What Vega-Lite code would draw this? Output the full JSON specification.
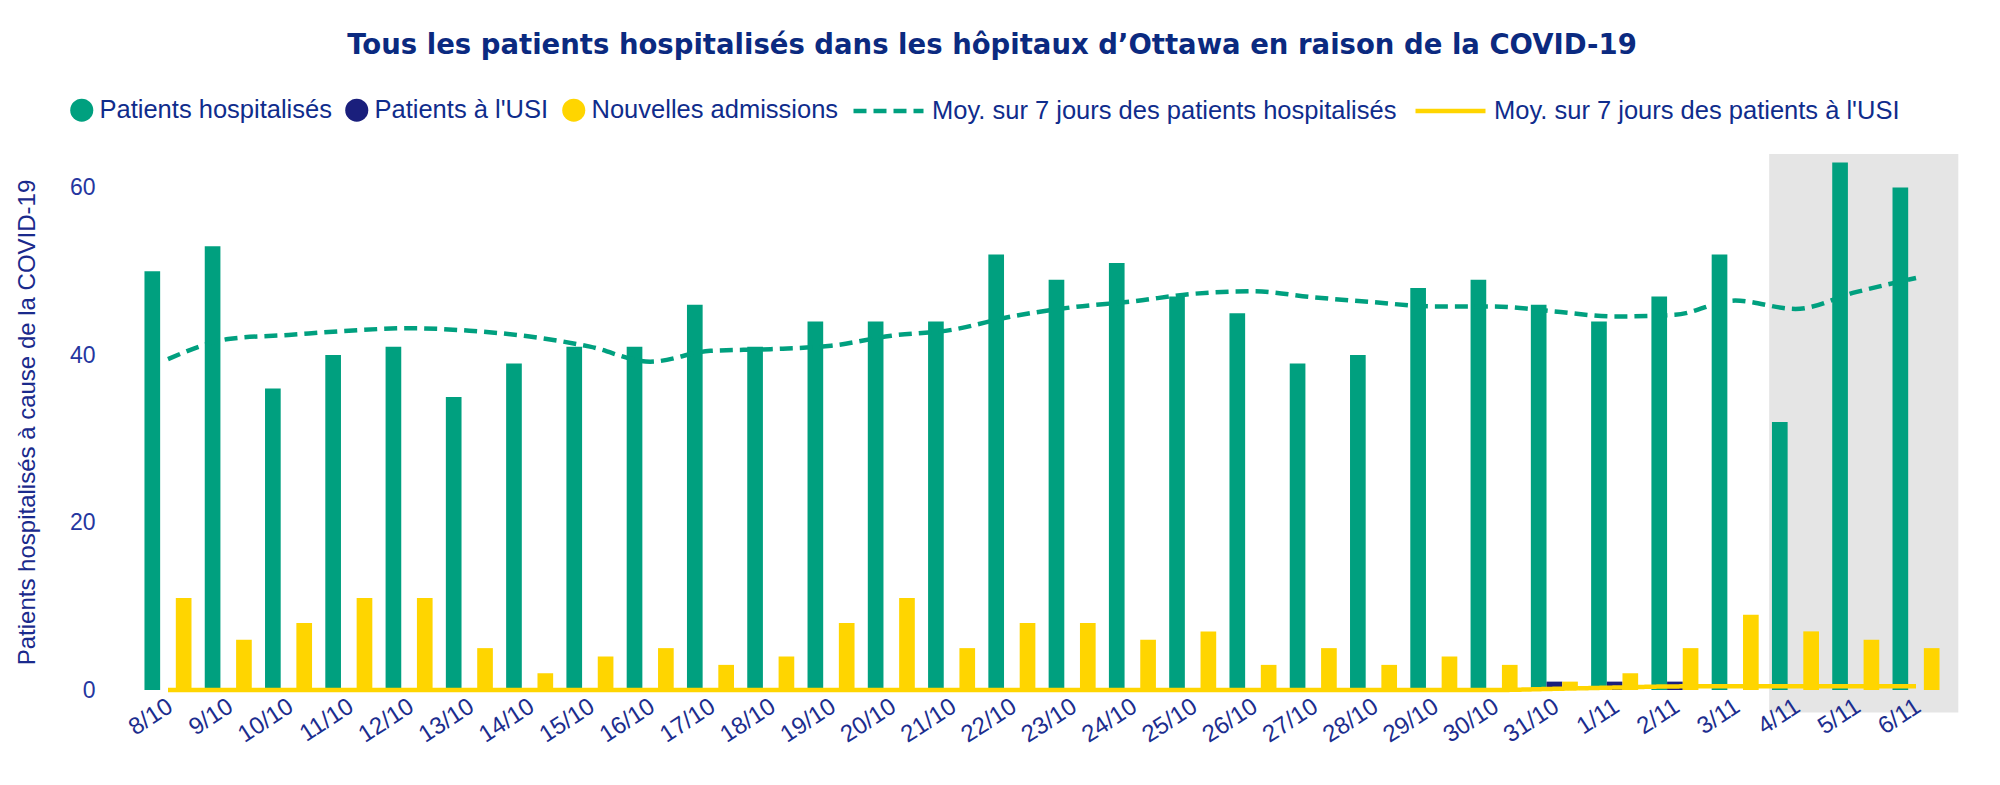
{
  "$schema": "https://vega.github.io/schema/vega-lite/v6.json",
  "width": 1844,
  "height": 536,
  "autosize": {"type": "none"},
  "padding": {"left": 120, "top": 154, "right": 36, "bottom": 95},
  "background": "white",
  "config": {"font": "Liberation Sans", "view": {"stroke": null}},
  "title": {
    "text": "Tous les patients hospitalisés dans les hôpitaux d’Ottawa en raison de la COVID-19",
    "font": "DejaVu Sans",
    "fontSize": 27.5,
    "fontWeight": "bold",
    "color": "#0b2a80",
    "anchor": "middle",
    "frame": "group",
    "dx": -50,
    "offset": 14
  },
  "datasets": {
    "days": [
      {"date": "8/10", "hosp": 50, "icu": 0, "adm": 11, "hospAvg": 39.5, "icuAvg": 0},
      {"date": "9/10", "hosp": 53, "icu": 0, "adm": 6, "hospAvg": 41.9, "icuAvg": 0},
      {"date": "10/10", "hosp": 36, "icu": 0, "adm": 8, "hospAvg": 42.4, "icuAvg": 0},
      {"date": "11/10", "hosp": 40, "icu": 0, "adm": 11, "hospAvg": 42.9, "icuAvg": 0},
      {"date": "12/10", "hosp": 41, "icu": 0, "adm": 11, "hospAvg": 43.2, "icuAvg": 0},
      {"date": "13/10", "hosp": 35, "icu": 0, "adm": 5, "hospAvg": 42.9, "icuAvg": 0},
      {"date": "14/10", "hosp": 39, "icu": 0, "adm": 2, "hospAvg": 42.2, "icuAvg": 0},
      {"date": "15/10", "hosp": 41, "icu": 0, "adm": 4, "hospAvg": 41.0, "icuAvg": 0},
      {"date": "16/10", "hosp": 41, "icu": 0, "adm": 5, "hospAvg": 39.2, "icuAvg": 0},
      {"date": "17/10", "hosp": 46, "icu": 0, "adm": 3, "hospAvg": 40.5, "icuAvg": 0},
      {"date": "18/10", "hosp": 41, "icu": 0, "adm": 4, "hospAvg": 40.7, "icuAvg": 0},
      {"date": "19/10", "hosp": 44, "icu": 0, "adm": 8, "hospAvg": 41.1, "icuAvg": 0},
      {"date": "20/10", "hosp": 44, "icu": 0, "adm": 11, "hospAvg": 42.3, "icuAvg": 0},
      {"date": "21/10", "hosp": 44, "icu": 0, "adm": 5, "hospAvg": 43.0, "icuAvg": 0},
      {"date": "22/10", "hosp": 52, "icu": 0, "adm": 8, "hospAvg": 44.6, "icuAvg": 0},
      {"date": "23/10", "hosp": 49, "icu": 0, "adm": 8, "hospAvg": 45.7, "icuAvg": 0},
      {"date": "24/10", "hosp": 51, "icu": 0, "adm": 6, "hospAvg": 46.4, "icuAvg": 0},
      {"date": "25/10", "hosp": 47, "icu": 0, "adm": 7, "hospAvg": 47.3, "icuAvg": 0},
      {"date": "26/10", "hosp": 45, "icu": 0, "adm": 3, "hospAvg": 47.6, "icuAvg": 0},
      {"date": "27/10", "hosp": 39, "icu": 0, "adm": 5, "hospAvg": 46.9, "icuAvg": 0},
      {"date": "28/10", "hosp": 40, "icu": 0, "adm": 3, "hospAvg": 46.3, "icuAvg": 0},
      {"date": "29/10", "hosp": 48, "icu": 0, "adm": 4, "hospAvg": 45.8, "icuAvg": 0},
      {"date": "30/10", "hosp": 49, "icu": 0, "adm": 3, "hospAvg": 45.8, "icuAvg": 0},
      {"date": "31/10", "hosp": 46, "icu": 1, "adm": 1, "hospAvg": 45.2, "icuAvg": 0.14},
      {"date": "1/11", "hosp": 44, "icu": 1, "adm": 2, "hospAvg": 44.6, "icuAvg": 0.29},
      {"date": "2/11", "hosp": 47, "icu": 1, "adm": 5, "hospAvg": 44.8, "icuAvg": 0.43},
      {"date": "3/11", "hosp": 52, "icu": 0, "adm": 9, "hospAvg": 46.5, "icuAvg": 0.45},
      {"date": "4/11", "hosp": 32, "icu": 0, "adm": 7, "hospAvg": 45.5, "icuAvg": 0.45},
      {"date": "5/11", "hosp": 63, "icu": 0, "adm": 6, "hospAvg": 47.5, "icuAvg": 0.45},
      {"date": "6/11", "hosp": 60, "icu": 0, "adm": 5, "hospAvg": 49.2, "icuAvg": 0.45}
    ],
    "highlight": [{"start": "4/11", "end": "6/11"}]
  },
  "encoding": {
    "x": {
      "field": "date",
      "type": "nominal",
      "title": null,
      "scale": {
        "domain": ["8/10","9/10","10/10","11/10","12/10","13/10","14/10","15/10","16/10","17/10","18/10","19/10","20/10","21/10","22/10","23/10","24/10","25/10","26/10","27/10","28/10","29/10","30/10","31/10","1/11","2/11","3/11","4/11","5/11","6/11"],
        "paddingInner": 0.22,
        "paddingOuter": 0.406
      },
      "axis": {
        "labelAngle": -33,
        "labelFontSize": 24,
        "labelColor": "#1c2d8e",
        "labelPadding": 4,
        "labelOffset": -4,
        "ticks": false,
        "tickSize": 0,
        "domain": false,
        "labelOverlap": false,
        "zindex": 1
      }
    }
  },
  "layer": [
    {
      "data": {"name": "highlight"},
      "mark": {"type": "rect", "color": "#000000", "opacity": 0.1},
      "encoding": {
        "x": {"field": "start", "type": "nominal", "bandPosition": -0.06},
        "x2": {"field": "end", "bandPosition": 1.4},
        "y": {"datum": 64, "type": "quantitative"},
        "y2": {"datum": -2.7}
      }
    },
    {
      "data": {"name": "days"},
      "transform": [{"fold": ["hosp", "icu", "adm"], "as": ["serie", "value"]}],
      "mark": {"type": "bar"},
      "encoding": {
        "xOffset": {"field": "serie", "type": "nominal", "scale": {"domain": ["hosp", "icu", "adm"], "paddingInner": 0, "paddingOuter": 0}},
        "y": {
          "field": "value",
          "type": "quantitative",
          "scale": {"domain": [0, 64], "nice": false},
          "axis": {
            "title": "Patients hospitalisés à cause de la COVID-19",
            "titleFontSize": 24,
            "titleFontWeight": "normal",
            "titleColor": "#1a2a8c",
            "titlePadding": 30,
            "values": [0, 20, 40, 60],
            "labelFontSize": 23,
            "labelColor": "#2536a0",
            "labelPadding": 25,
            "ticks": false,
            "tickSize": 0,
            "domain": false,
            "gridColor": "#b4b4b4",
            "gridWidth": 2
          }
        },
        "color": {
          "field": "serie",
          "type": "nominal",
          "scale": {"domain": ["hosp", "icu", "adm"], "range": ["#00a07f", "#1a1f7c", "#ffd500"]},
          "legend": {
            "orient": "none",
            "legendX": -51,
            "legendY": -57,
            "direction": "horizontal",
            "title": null,
            "padding": 0,
            "symbolType": "circle",
            "symbolSize": 529,
            "symbolStrokeWidth": 0,
            "labelFontSize": 25.5,
            "labelColor": "#0f2c8c",
            "labelOffset": 5,
            "columnPadding": 12,
            "labelLimit": 0,
            "labelExpr": "datum.label == 'hosp' ? 'Patients hospitalisés' : datum.label == 'icu' ? \"Patients à l'USI\" : 'Nouvelles admissions'"
          }
        }
      }
    },
    {
      "data": {"name": "days"},
      "transform": [{"fold": ["icuAvg", "hospAvg"], "as": ["serie", "value"]}],
      "mark": {"type": "line", "strokeWidth": 4.5, "interpolate": "monotone"},
      "encoding": {
        "y": {"field": "value", "type": "quantitative"},
        "stroke": {
          "field": "serie",
          "type": "nominal",
          "scale": {"domain": ["hospAvg", "icuAvg"], "range": ["#00a07f", "#ffd500"]},
          "legend": {
            "orient": "none",
            "legendX": 731,
            "legendY": -80.5,
            "direction": "horizontal",
            "title": null,
            "padding": 0,
            "symbolType": "stroke",
            "symbolSize": 4900,
            "symbolStrokeWidth": 4.5,
            "labelFontSize": 25.5,
            "labelColor": "#0f2c8c",
            "labelOffset": 6,
            "columnPadding": 9,
            "labelLimit": 0,
            "labelExpr": "datum.label == 'hospAvg' ? 'Moy. sur 7 jours des patients hospitalisés' : \"Moy. sur 7 jours des patients à l'USI\""
          }
        },
        "strokeDash": {
          "field": "serie",
          "type": "nominal",
          "scale": {"domain": ["hospAvg", "icuAvg"], "range": [[13, 7], [1, 0]]},
          "legend": null
        }
      }
    }
  ]
}
